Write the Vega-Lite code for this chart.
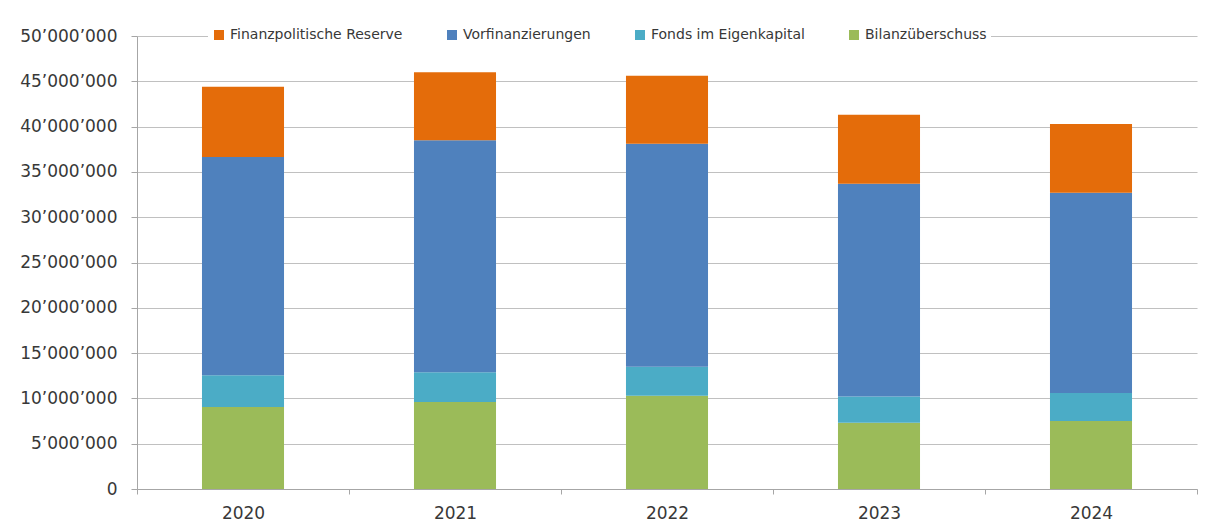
{
  "$schema": "https://vega.github.io/schema/vega-lite/v6.json",
  "autosize": {"type": "none"},
  "padding": {"left": 137, "top": 36, "right": 11, "bottom": 42},
  "width": 1060,
  "height": 453,
  "background": "white",
  "data": {
    "values": [
      {"year": "2020", "category": "Bilanzüberschuss", "value": 9050000, "rank": 1},
      {"year": "2020", "category": "Fonds im Eigenkapital", "value": 3500000, "rank": 2},
      {"year": "2020", "category": "Vorfinanzierungen", "value": 24100000, "rank": 3},
      {"year": "2020", "category": "Finanzpolitische Reserve", "value": 7750000, "rank": 4},
      {"year": "2021", "category": "Bilanzüberschuss", "value": 9600000, "rank": 1},
      {"year": "2021", "category": "Fonds im Eigenkapital", "value": 3300000, "rank": 2},
      {"year": "2021", "category": "Vorfinanzierungen", "value": 25600000, "rank": 3},
      {"year": "2021", "category": "Finanzpolitische Reserve", "value": 7500000, "rank": 4},
      {"year": "2022", "category": "Bilanzüberschuss", "value": 10300000, "rank": 1},
      {"year": "2022", "category": "Fonds im Eigenkapital", "value": 3200000, "rank": 2},
      {"year": "2022", "category": "Vorfinanzierungen", "value": 24600000, "rank": 3},
      {"year": "2022", "category": "Finanzpolitische Reserve", "value": 7500000, "rank": 4},
      {"year": "2023", "category": "Bilanzüberschuss", "value": 7300000, "rank": 1},
      {"year": "2023", "category": "Fonds im Eigenkapital", "value": 2900000, "rank": 2},
      {"year": "2023", "category": "Vorfinanzierungen", "value": 23500000, "rank": 3},
      {"year": "2023", "category": "Finanzpolitische Reserve", "value": 7600000, "rank": 4},
      {"year": "2024", "category": "Bilanzüberschuss", "value": 7500000, "rank": 1},
      {"year": "2024", "category": "Fonds im Eigenkapital", "value": 3100000, "rank": 2},
      {"year": "2024", "category": "Vorfinanzierungen", "value": 22100000, "rank": 3},
      {"year": "2024", "category": "Finanzpolitische Reserve", "value": 7600000, "rank": 4}
    ]
  },
  "mark": {"type": "bar", "width": {"band": 0.387}},
  "encoding": {
    "x": {
      "field": "year",
      "type": "nominal",
      "scale": {"paddingInner": 0, "paddingOuter": 0},
      "axis": {
        "title": null,
        "labelAngle": 0,
        "labelFont": "DejaVu Sans",
        "labelFontSize": 17,
        "labelColor": "#383838",
        "labelPadding": 11,
        "tickBand": "extent",
        "tickSize": 5,
        "tickColor": "#A6A6A6",
        "domainColor": "#A6A6A6",
        "grid": false
      }
    },
    "y": {
      "field": "value",
      "type": "quantitative",
      "stack": "zero",
      "scale": {"domain": [0, 50000000], "nice": false},
      "axis": {
        "title": null,
        "values": [0, 5000000, 10000000, 15000000, 20000000, 25000000, 30000000, 35000000, 40000000, 45000000, 50000000],
        "labelExpr": "replace(format(datum.value, ','), regexp(',', 'g'), '’')",
        "labelFont": "DejaVu Sans",
        "labelFontSize": 17,
        "labelColor": "#383838",
        "labelPadding": 14,
        "tickSize": 6,
        "tickColor": "#A6A6A6",
        "domainColor": "#A6A6A6",
        "grid": true,
        "gridColor": "#C0C0C0",
        "gridWidth": 1.2
      }
    },
    "color": {
      "field": "category",
      "type": "nominal",
      "scale": {
        "domain": ["Finanzpolitische Reserve", "Vorfinanzierungen", "Fonds im Eigenkapital", "Bilanzüberschuss"],
        "range": ["#E46C0A", "#4F81BD", "#4BACC6", "#9BBB59"]
      },
      "legend": {
        "title": null,
        "orient": "none",
        "direction": "horizontal",
        "legendX": 71,
        "legendY": -12,
        "padding": 4,
        "fillColor": "white",
        "symbolType": "square",
        "symbolSize": 100,
        "symbolStrokeWidth": 0,
        "labelFont": "DejaVu Sans",
        "labelFontSize": 14,
        "labelColor": "#383838",
        "labelOffset": 4,
        "columnPadding": 42,
        "labelLimit": 400
      }
    },
    "order": {"field": "rank", "type": "quantitative", "sort": "ascending"}
  },
  "config": {
    "view": {"stroke": null}
  }
}
